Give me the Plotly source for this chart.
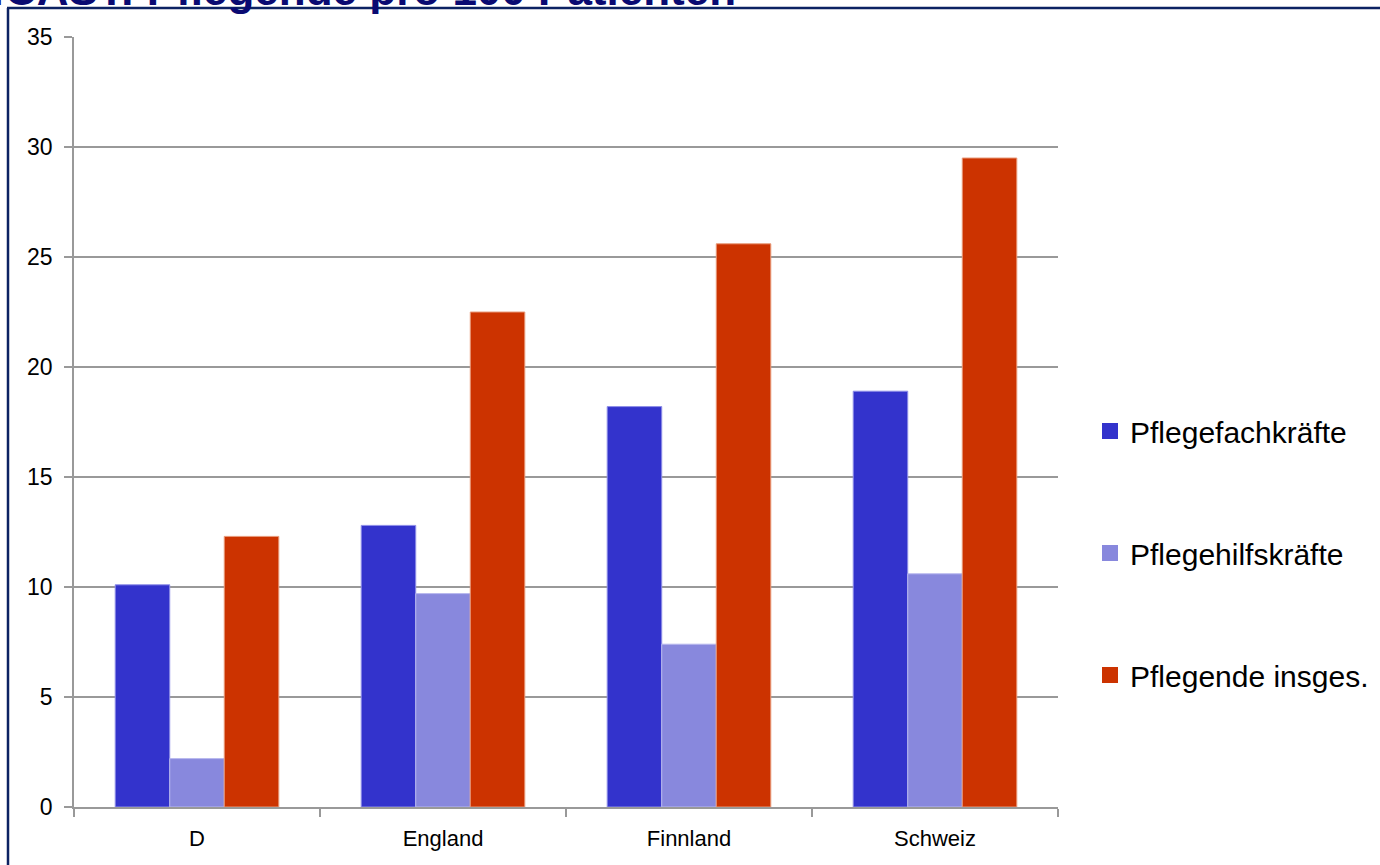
import plotly.graph_objects as go

categories = ["D", "England", "Finnland", "Schweiz"]
series_names = ["Pflegefachkräfte", "Pflegehilfskräfte", "Pflegende insges."]
pflegefachkraefte = [10.1, 12.8, 18.2, 18.9]
pflegehilfskraefte = [2.2, 9.7, 7.4, 10.6]
pflegende_insges = [12.3, 22.5, 25.6, 29.5]
y_ticks = [0, 5, 10, 15, 20, 25, 30, 35]
title_text = "RN4CAST: Pflegende pro 100 Patienten"

colors = ["#3333cc", "#8888dd", "#cc3300"]
edge = ["#8f8fe8", "#b8b8ee", "#e89a7a"]
values = [pflegefachkraefte, pflegehilfskraefte, pflegende_insges]

W, H = 1380, 865
L, R, T, B = 74, 1058, 37, 807
pw, ph = R - L, B - T

def px_x(p):
    return (p - L) / pw

def px_y(p):
    return (B - p) / ph

narrow = "Liberation Sans Narrow, Arial Narrow, Liberation Sans, Arial, sans-serif"
sans = "Liberation Sans, Arial, sans-serif"

fig = go.Figure()
for name, vals, c, e in zip(series_names, values, colors, edge):
    fig.add_trace(go.Bar(
        x=categories, y=vals, name=name, showlegend=False,
        marker=dict(color=c, line=dict(color=e, width=1)),
    ))
for i, (name, c) in enumerate(zip(series_names, colors)):
    fig.add_trace(go.Scatter(
        x=[None], y=[None], name=name, mode="markers", legendgroup=f"g{i}",
        marker=dict(symbol="square", size=20, color=c),
    ))

fig.update_layout(
    width=W, height=H, autosize=False,
    margin=dict(l=L, r=W - R, t=T, b=H - B, pad=0, autoexpand=False),
    paper_bgcolor="white", plot_bgcolor="white",
    barmode="group", bargap=0.335, bargroupgap=0,
    legend=dict(
        xref="container", yref="container",
        x=1090 / W, y=(H - 405) / H, xanchor="left", yanchor="top",
        font=dict(family=sans, size=30, color="#000000"),
        tracegroupgap=80, itemwidth=30, bgcolor="rgba(0,0,0,0)",
    ),
    xaxis=dict(
        type="category", range=[-0.5, 3.5], automargin=False,
        showline=True, linecolor="#999999", linewidth=1.5,
        ticks="outside", tickson="boundaries", ticklen=8, tickcolor="#999999", tickwidth=1.5,
        showgrid=False, tickfont=dict(family=narrow, size=22, color="#000000"),
        ticklabelstandoff=11,
    ),
    yaxis=dict(
        range=[0, 35], tickvals=y_ticks, automargin=False,
        showline=True, linecolor="#999999", linewidth=1.5,
        ticks="outside", ticklen=8, tickcolor="#999999", tickwidth=1.5,
        showgrid=True, gridcolor="#999999", gridwidth=1.5, zeroline=False,
        tickfont=dict(family=narrow, size=23, color="#000000"),
        ticklabelstandoff=7,
    ),
    annotations=[dict(
        text="<b>" + title_text + "</b>", xref="paper", yref="paper",
        x=px_x(738), y=px_y(16), xanchor="right", yanchor="bottom",
        showarrow=False, font=dict(family=sans, size=44, color="#0a0a72"),
    )],
    shapes=[
        dict(type="line", xref="paper", yref="paper", x0=px_x(7), x1=px_x(1400),
             y0=px_y(8), y1=px_y(8), line=dict(color="#0c2262", width=2.5)),
        dict(type="line", xref="paper", yref="paper", x0=px_x(8), x1=px_x(8),
             y0=px_y(8), y1=px_y(880), line=dict(color="#0c2262", width=2.5)),
    ],
)

fig.write_html("out.html")
